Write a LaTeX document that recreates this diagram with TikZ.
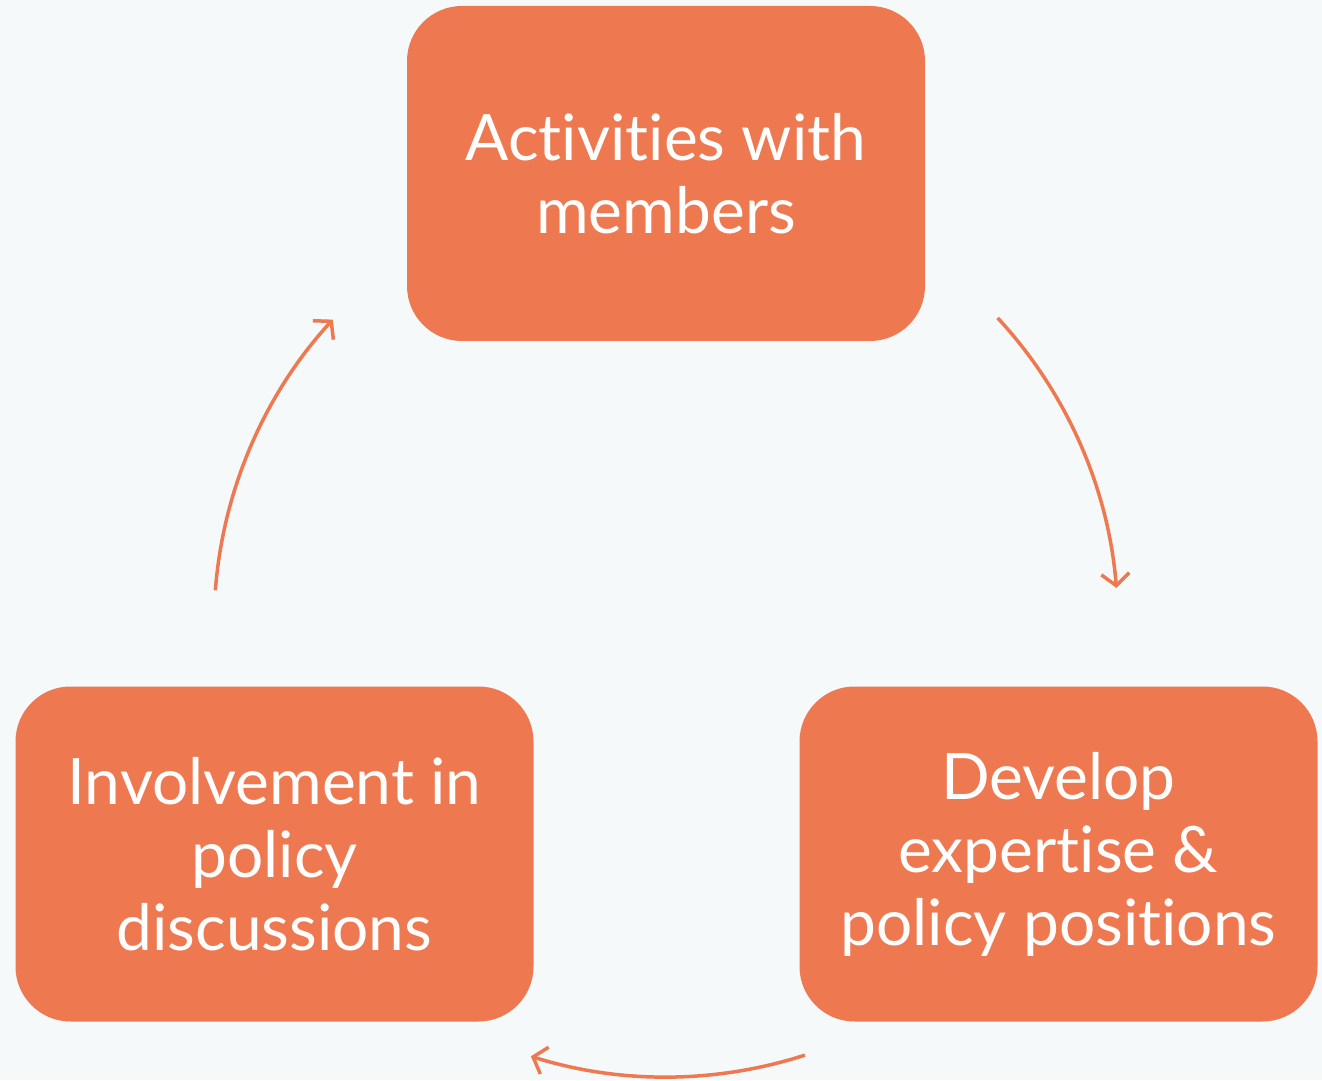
\documentclass[tikz,border=0pt]{standalone}
\usepackage{fontspec}
\setmainfont[Ligatures={NoCommon,NoRequired,NoContextual}]{Lato}
\usetikzlibrary{arrows.meta,calc}
\definecolor{bgc}{HTML}{F5F9FA}
\definecolor{boxc}{HTML}{EE7950}
\tikzset{
  stagebox/.style={fill=boxc, draw=none, rounded corners=55pt, minimum width=518pt, minimum height=335pt,
    text=white, align=center, inner sep=0pt, font=\fontsize{64}{73}\selectfont},
  cyclearrow/.style={draw=boxc, line width=3.5pt, -{Straight Barb[length=12pt,width=28pt,line width=3.5pt]}}
}
\begin{document}
\begin{tikzpicture}[x=1pt,y=1pt]
\fill[bgc] (0,0) rectangle (1322,1080);
\useasboundingbox (0,0) rectangle (1322,1080);
\node[stagebox] (top) at (666,906.5) {Activities with\\members};
\node[stagebox] (left) at (274.5,226) {Involvement in\\policy\\discussions};
\node[stagebox] (right) at (1058.5,226) {Develop\\expertise \&\\policy positions};
\coordinate (c) at (666,455);
\coordinate (r1) at ($(c)+(42.8:452pt)$);
\coordinate (b1) at ($(c)+(-72.1:452pt)$);
\coordinate (l1) at ($(c)+(175.6:452pt)$);
\draw[cyclearrow] (r1) arc[start angle=42.8, end angle=4.7, radius=452pt];
\draw[cyclearrow] (b1) arc[start angle=-72.1, end angle=-107.4, radius=452pt];
\draw[cyclearrow] (l1) arc[start angle=175.6, end angle=137.5, radius=452pt];
\end{tikzpicture}
\end{document}
